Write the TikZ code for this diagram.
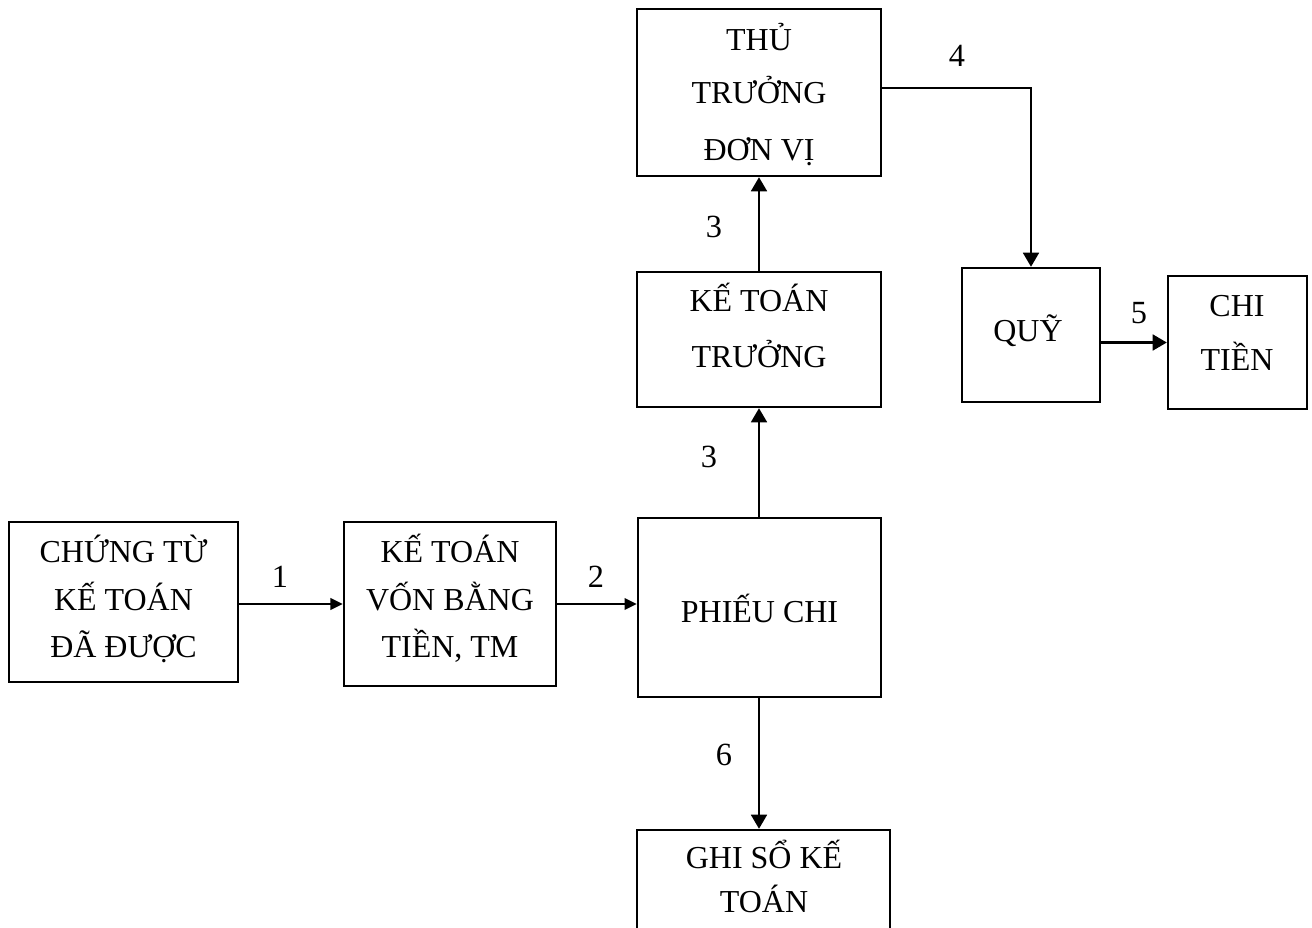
\documentclass[tikz,border=0pt]{standalone}
\usepackage{fontspec}
\setmainfont{Liberation Serif}
\usetikzlibrary{arrows.meta}
\begin{document}
\begin{tikzpicture}[x=0.02cm,y=-0.02cm,
  box/.style={draw, line width=1.4pt, inner sep=0pt, fill=white},
  txt/.style={anchor=base, inner sep=0pt, font=\fontsize{18.2}{20}\selectfont},
  num/.style={anchor=base, inner sep=0pt, font=\fontsize{18.4}{20}\selectfont},
  flow/.style={line width=1.3pt, -{Triangle[length=8pt,width=9pt]}},
  smallflow/.style={line width=1.3pt, -{Triangle[length=7pt,width=6.5pt]}}]
\useasboundingbox (0,0) rectangle (1312,927);

% boxes
\node[box, minimum width=4.88cm, minimum height=3.34cm] (thu) at (759,92.5) {};
\node[box, minimum width=4.88cm, minimum height=2.70cm] (ktt) at (759,339.5) {};
\node[box, minimum width=2.76cm, minimum height=2.68cm] (quy) at (1031,335) {};
\node[box, minimum width=2.78cm, minimum height=2.66cm] (chitien) at (1237.5,342.5) {};
\node[box, minimum width=4.58cm, minimum height=3.20cm] (chungtu) at (123.5,602) {};
\node[box, minimum width=4.24cm, minimum height=3.28cm] (ktv) at (450,604) {};
\node[box, minimum width=4.86cm, minimum height=3.58cm] (phieu) at (759.5,607.5) {};
\node[box, minimum width=5.06cm, minimum height=2.60cm] (ghiso) at (763.5,895) {};

% box texts
\node[txt] (thu1) at (759,50) {THỦ};
\node[txt] (thu2) at (759,103) {TRƯỞNG};
\node[txt] (thu3) at (759,160) {ĐƠN VỊ};
\node[txt] (ktt1) at (759,311) {KẾ TOÁN};
\node[txt] (ktt2) at (759,367) {TRƯỞNG};
\node[txt] (quy1) at (1028,341) {QUỸ};
\node[txt] (ct1) at (1237,316) {CHI};
\node[txt] (ct2) at (1237,370) {TIỀN};
\node[txt] (cg1) at (123.5,562) {CHỨNG TỪ};
\node[txt] (cg2) at (123.5,610) {KẾ TOÁN};
\node[txt] (cg3) at (123.5,657) {ĐÃ ĐƯỢC};
\node[txt] (kv1) at (450,562) {KẾ TOÁN};
\node[txt] (kv2) at (450,610) {VỐN BẰNG};
\node[txt] (kv3) at (450,657) {TIỀN, TM};
\node[txt] (pc1) at (759.5,622) {PHIẾU CHI};
\node[txt] (gs1) at (764,868) {GHI SỔ KẾ};
\node[txt] (gs2) at (764,912) {TOÁN};

% connectors
\draw[smallflow] (chungtu.east |- ktv.west) -- (ktv.west);
\draw[smallflow] (ktv.east) -- (ktv.east -| phieu.west);
\draw[flow] (phieu.north -| ktt.south) -- (ktt.south);
\draw[flow] (ktt.north) -- (thu.south);
\draw[flow] ([yshift=0.09cm]thu.east) -| (quy.north);
\draw[flow] (quy.east |- chitien.west) -- (chitien.west);
\draw[flow] (phieu.south -| ktt.south) -- (ktt.south |- ghiso.north);

% step numbers
\node[num] (n1) at (280,587) {1};
\node[num] (n2) at (596,587) {2};
\node[num] (n3a) at (709,467) {3};
\node[num] (n3b) at (714,237) {3};
\node[num] (n4) at (957,66) {4};
\node[num] (n5) at (1139,323) {5};
\node[num] (n6) at (724,765) {6};
\end{tikzpicture}
\end{document}
